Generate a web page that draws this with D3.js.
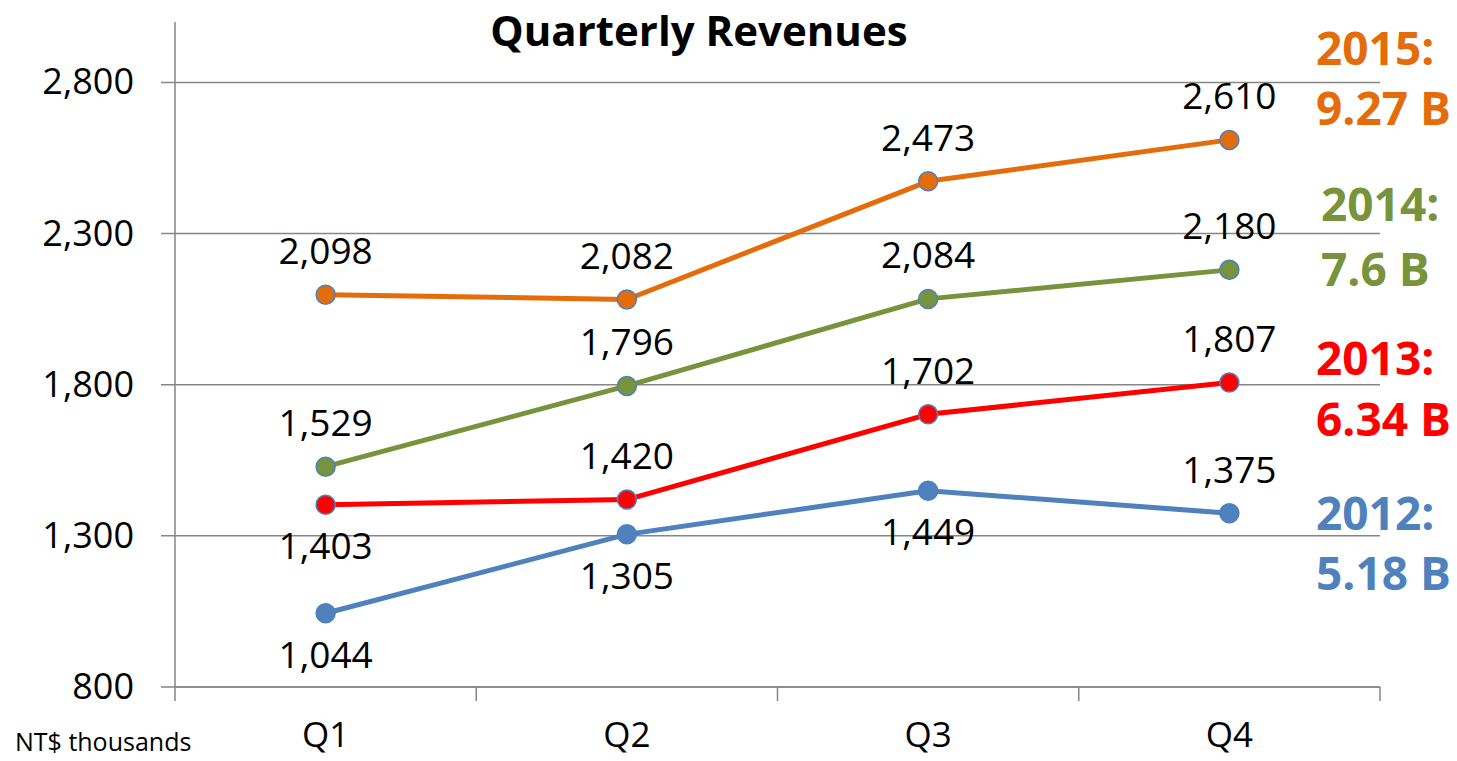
<!DOCTYPE html>
<html>
<head>
<meta charset="utf-8">
<script src="https://cdn.jsdelivr.net/npm/d3@7"></script>
<style>
  body { margin: 0; background: #fff; }
  text { font-family: "Open Sans", sans-serif; }
</style>
</head>
<body>
<div id="chart"></div>
<script>
// 資料
const quarters = ["Q1", "Q2", "Q3", "Q4"];
const years = ["2015", "2014", "2013", "2012"];
const rev2015 = [2098, 2082, 2473, 2610];
const rev2014 = [1529, 1796, 2084, 2180];
const rev2013 = [1403, 1420, 1702, 1807];
const rev2012 = [1044, 1305, 1449, 1375];
const yearTotals = ["9.27 B", "7.6 B", "6.34 B", "5.18 B"];
const yTicks = [800, 1300, 1800, 2300, 2800];
// 標籤在點的上方或下方
const place2015 = ["above", "above", "above", "above"];
const place2014 = ["above", "above", "above", "above"];
const place2013 = ["below", "above", "above", "above"];
const place2012 = ["below", "below", "below", "above"];

const colors = {"2015": "#E46C0A", "2014": "#77933C", "2013": "#FF0000", "2012": "#4F81BD"};

const series = [
    {year: "2015", values: rev2015, place: place2015},
    {year: "2014", values: rev2014, place: place2014},
    {year: "2013", values: rev2013, place: place2013},
    {year: "2012", values: rev2012, place: place2012}
];

// 生成svg
const W = 1457, H = 761;
const margin = {top: 22, right: 77, bottom: 74, left: 175};
const width = W - margin.left - margin.right;
const height = H - margin.top - margin.bottom;

const svg = d3.select("#chart")
    .append("svg")
    .attr("width", W)
    .attr("height", H);

const g = svg.append("g")
    .attr("transform", `translate(${margin.left},${margin.top})`);

// 比例尺
const x = d3.scaleBand()
    .domain(quarters)
    .range([0, width])
    .padding(0);

const y = d3.scaleLinear()
    .domain([800, 3000])
    .range([height, 0]);

const gridColor = "#868686";

// 格線
g.append("g")
    .selectAll("line")
    .data(yTicks)
    .enter()
    .append("line")
    .attr("x1", -14)
    .attr("x2", width)
    .attr("y1", d => y(d))
    .attr("y2", d => y(d))
    .attr("stroke", gridColor)
    .attr("stroke-width", 1.5);

// y 軸
const yAxis = g.append("g")
    .call(d3.axisLeft(y).tickValues(yTicks).tickSize(0).tickPadding(41).tickFormat(d3.format(",")));
yAxis.select(".domain").remove();
yAxis.selectAll("text")
    .style("font-size", "36px")
    .attr("fill", "#000");

g.append("line")
    .attr("x1", 0).attr("x2", 0)
    .attr("y1", 0).attr("y2", height)
    .attr("stroke", gridColor)
    .attr("stroke-width", 1.5);

// x 軸
const xAxis = g.append("g")
    .attr("transform", `translate(0,${height})`)
    .call(d3.axisBottom(x).tickSize(0).tickPadding(35));
xAxis.select(".domain").remove();
xAxis.selectAll("text")
    .style("font-size", "35px")
    .attr("fill", "#000");

g.append("line")
    .attr("x1", 0).attr("x2", width)
    .attr("y1", height).attr("y2", height)
    .attr("stroke", gridColor)
    .attr("stroke-width", 1.5);

// x 軸刻度 (類別邊界)
const bounds = quarters.map(q => x(q)).concat([width]);
g.append("g")
    .selectAll("line")
    .data(bounds)
    .enter()
    .append("line")
    .attr("x1", d => d).attr("x2", d => d)
    .attr("y1", height).attr("y2", height + 14)
    .attr("stroke", gridColor)
    .attr("stroke-width", 1.5);

// 折線
const line = d3.line()
    .x((d, i) => x(quarters[i]) + x.bandwidth() / 2)
    .y(d => y(d));

series.forEach(s => {
    const c = colors[s.year];
    g.append("path")
        .datum(s.values)
        .attr("fill", "none")
        .attr("stroke", c)
        .attr("stroke-width", 5)
        .attr("stroke-linejoin", "round")
        .attr("d", line);

    g.selectAll(null)
        .data(s.values)
        .enter()
        .append("circle")
        .attr("cx", (d, i) => x(quarters[i]) + x.bandwidth() / 2)
        .attr("cy", d => y(d))
        .attr("r", 9.5)
        .attr("fill", c)
        .attr("stroke", "#4F81BD")
        .attr("stroke-width", 1.5);

    g.selectAll(null)
        .data(s.values)
        .enter()
        .append("text")
        .attr("x", (d, i) => x(quarters[i]) + x.bandwidth() / 2)
        .attr("y", (d, i) => y(d) + (s.place[i] === "above" ? -45 : 40))
        .attr("text-anchor", "middle")
        .attr("dominant-baseline", "central")
        .style("font-size", "37px")
        .attr("fill", "#000")
        .text(d => d3.format(",")(d));
});

// 標題
svg.append("text")
    .attr("x", 699)
    .attr("y", 29)
    .attr("text-anchor", "middle")
    .attr("dominant-baseline", "central")
    .style("font-size", "42px")
    .style("font-weight", "bold")
    .attr("fill", "#000")
    .text("Quarterly Revenues");

// 單位
svg.append("text")
    .attr("x", 15)
    .attr("y", 741)
    .attr("dominant-baseline", "central")
    .style("font-size", "25px")
    .attr("fill", "#000")
    .text("NT$ thousands");

// 年度總計
const totalY = [[47, 107], [203, 268], [357, 418], [512, 572]];
years.forEach((yr, i) => {
    const tx = yr === "2014" ? 1321 : 1316;
    const t = svg.append("text")
        .style("font-size", "46px")
        .style("font-weight", "bold")
        .attr("fill", colors[yr]);
    t.append("tspan")
        .attr("x", tx)
        .attr("y", totalY[i][0])
        .attr("dominant-baseline", "central")
        .text(yr + ":");
    t.append("tspan")
        .attr("x", tx)
        .attr("y", totalY[i][1])
        .attr("dominant-baseline", "central")
        .text(yearTotals[i]);
});
</script>
</body>
</html>
